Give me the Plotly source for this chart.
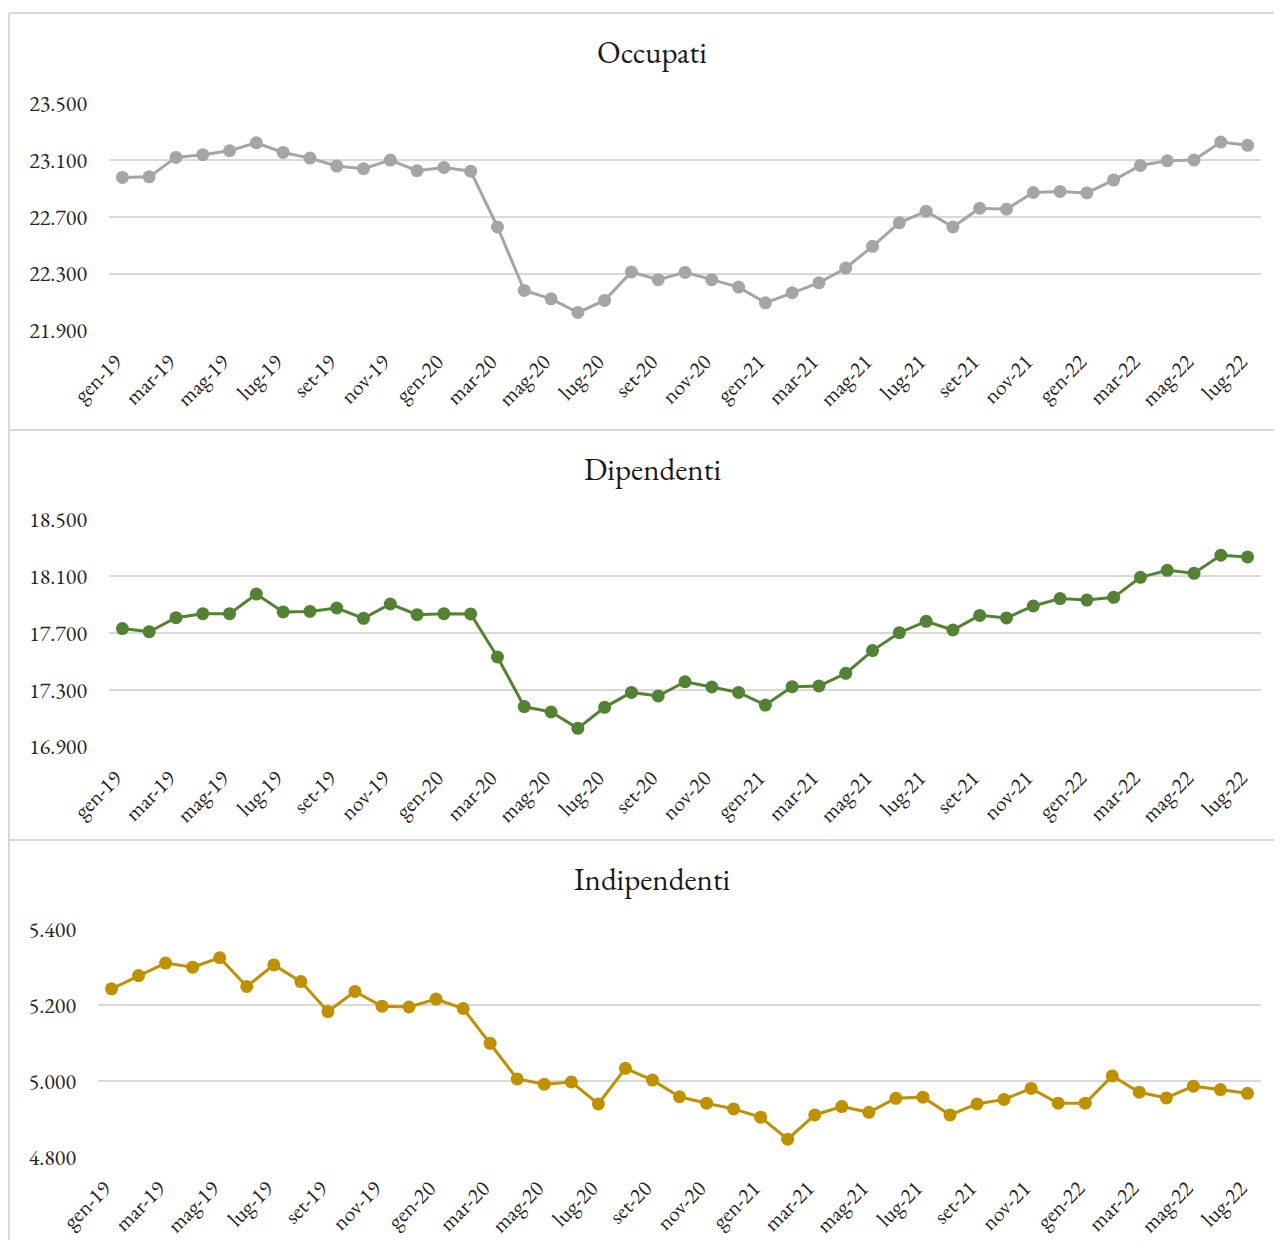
import plotly.graph_objects as go

months = ["gen", "feb", "mar", "apr", "mag", "giu", "lug", "ago", "set", "ott", "nov", "dic"]
categories = [f"{m}-{y}" for y in ["19", "20", "21"] for m in months] + [f"{m}-22" for m in months[:7]]
tick_labels = categories[::2]

occupati = [22978, 22982, 23119, 23138, 23166, 23222, 23154, 23114, 23058, 23039, 23100, 23025,
            23048, 23022, 22629, 22182, 22123, 22027, 22112, 22312, 22258, 22309, 22258, 22206,
            22095, 22166, 22236, 22340, 22493, 22658, 22740, 22629, 22761, 22754, 22872, 22879,
            22869, 22959, 23062, 23095, 23100, 23227, 23204]
dipendenti = [17731, 17709, 17808, 17836, 17836, 17974, 17848, 17852, 17876, 17803, 17904, 17829,
              17836, 17834, 17531, 17182, 17144, 17029, 17177, 17282, 17257, 17357, 17320, 17282,
              17193, 17322, 17327, 17416, 17576, 17702, 17782, 17721, 17824, 17806, 17890, 17942,
              17932, 17951, 18092, 18141, 18120, 18247, 18235]
indipendenti = [5244, 5279, 5312, 5301, 5326, 5250, 5307, 5263, 5184, 5237, 5198, 5196,
                5217, 5192, 5100, 5006, 4992, 4998, 4940, 5034, 5003, 4959, 4942, 4927,
                4905, 4847, 4911, 4933, 4918, 4955, 4958, 4911, 4940, 4952, 4981, 4942,
                4942, 5014, 4971, 4956, 4987, 4978, 4968]

panels = [
    dict(title="Occupati", y=occupati, color="#a5a5a5", ticks=[21900, 22300, 22700, 23100, 23500],
         xdom=[109, 1261], ydom=[103.3, 330.5], ty=52),
    dict(title="Dipendenti", y=dipendenti, color="#548235", ticks=[16900, 17300, 17700, 18100, 18500],
         xdom=[109, 1261], ydom=[519.3, 746.7], ty=469),
    dict(title="Indipendenti", y=indipendenti, color="#bf9000", ticks=[4800, 5000, 5200, 5400],
         xdom=[98, 1261], ydom=[929.7, 1157], ty=879),
]

# page body has an 8px margin: the figure is sized so the page fits the window exactly
OFF = 8
PAGE_W, PAGE_H = 1282, 1248
W, H = PAGE_W - 2 * OFF, PAGE_H - 2 * OFF


def px(x):
    return (x - OFF) / W


def py(y):
    return 1 - (y - OFF) / H


FONT = "Garamond, 'EB Garamond', 'Liberation Serif', 'Times New Roman', serif"

fig = go.Figure()
layout = dict(
    width=W, height=H, margin=dict(l=0, r=0, t=0, b=0, autoexpand=False),
    paper_bgcolor="white", plot_bgcolor="white", showlegend=False,
    separators=",.", font=dict(family=FONT, size=22, color="#262626"),
)
annotations = []
for i, p in enumerate(panels, start=1):
    xa = "x" if i == 1 else f"x{i}"
    ya = "y" if i == 1 else f"y{i}"
    fig.add_trace(go.Scatter(
        x=categories, y=p["y"], xaxis=xa, yaxis=ya, mode="lines+markers",
        line=dict(color=p["color"], width=3),
        marker=dict(color=p["color"], size=13),
        cliponaxis=False,
    ))
    xk = "xaxis" if i == 1 else f"xaxis{i}"
    yk = "yaxis" if i == 1 else f"yaxis{i}"
    layout[xk] = dict(
        domain=[px(p["xdom"][0]), px(p["xdom"][1])], anchor=ya, type="category",
        categoryorder="array", categoryarray=categories, range=[-0.5, len(categories) - 0.5],
        tickmode="array", tickvals=tick_labels, ticktext=tick_labels, tickangle=-45,
        showgrid=False, zeroline=False, showline=False, ticks="", automargin=False,
        ticklabelstandoff=13, ticklabelshift=-7,
        tickfont=dict(family=FONT, size=22, color="#262626"),
    )
    layout[yk] = dict(
        domain=[py(p["ydom"][1]), py(p["ydom"][0])], anchor=xa,
        range=[p["ticks"][0], p["ticks"][-1]], tickmode="array", tickvals=p["ticks"],
        tickformat=",d", showgrid=True, gridcolor="#d9d9d9", gridwidth=2,
        zeroline=False, showline=False, ticks="", ticklabelstandoff=21, automargin=False,
        tickfont=dict(family=FONT, size=22, color="#262626"),
    )
    annotations.append(dict(
        text=p["title"], x=px(652), y=py(p["ty"]), xref="paper", yref="paper",
        xanchor="center", yanchor="middle", showarrow=False,
        font=dict(family=FONT, size=31, color="#1a1a1a"),
    ))

shapes = []
for yy in [13, 430, 840]:
    shapes.append(dict(type="line", xref="paper", yref="paper", x0=px(9), x1=1.0,
                       y0=py(yy), y1=py(yy), line=dict(color="#d9d9d9", width=2)))
shapes.append(dict(type="line", xref="paper", yref="paper", x0=px(9), x1=px(9),
                   y0=0, y1=py(13), line=dict(color="#d9d9d9", width=2)))
layout["annotations"] = annotations
layout["shapes"] = shapes
fig.update_layout(**layout)
fig.write_html("out.html")
